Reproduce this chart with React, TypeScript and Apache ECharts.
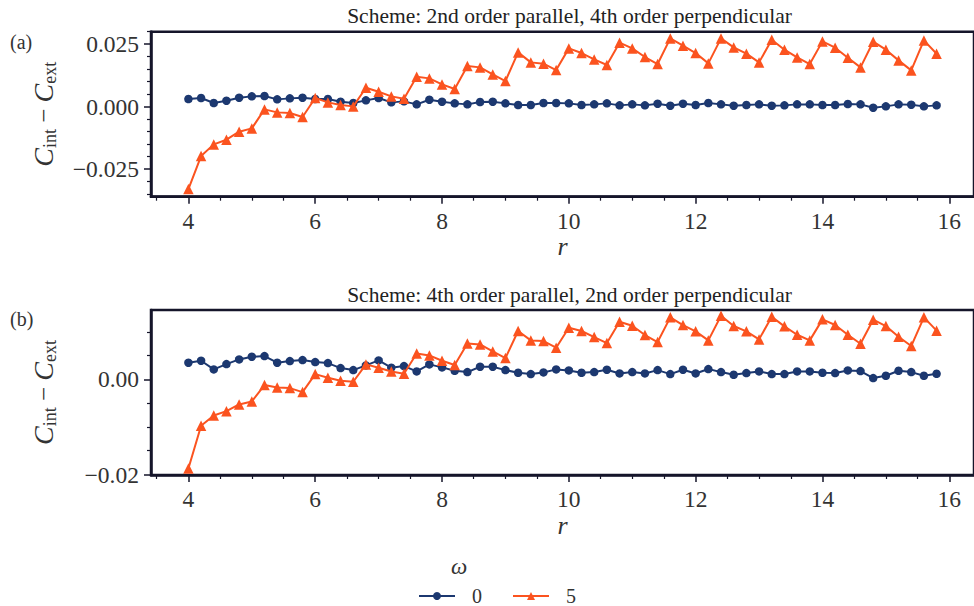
import React, { useEffect, useRef } from "react";
import * as echarts from "echarts";

const r = [4.0, 4.2, 4.4, 4.6, 4.8, 5.0, 5.2, 5.4, 5.6, 5.8, 6.0, 6.2, 6.4, 6.6, 6.8, 7.0, 7.2, 7.4, 7.6, 7.8,
  8.0, 8.2, 8.4, 8.6, 8.8, 9.0, 9.2, 9.4, 9.6, 9.8, 10.0, 10.2, 10.4, 10.6, 10.8, 11.0, 11.2, 11.4, 11.6, 11.8,
  12.0, 12.2, 12.4, 12.6, 12.8, 13.0, 13.2, 13.4, 13.6, 13.8, 14.0, 14.2, 14.4, 14.6, 14.8, 15.0, 15.2, 15.4, 15.6, 15.8];

// Panel (a): 2nd order parallel, 4th order perpendicular
const a_w0 = [0.00307, 0.00347, 0.00147, 0.0024, 0.0036, 0.00413, 0.00427, 0.00293, 0.00333, 0.0036,
  0.00307, 0.00307, 0.002, 0.00147, 0.00253, 0.00347, 0.00173, 0.00213, 0.00093, 0.0028,
  0.002, 0.00133, 0.00093, 0.00187, 0.002, 0.00133, 0.00067, 0.00067, 0.00147, 0.00147,
  0.00133, 0.00067, 0.00093, 0.00133, 0.00053, 0.00093, 0.00053, 0.0012, 0.0004, 0.0012,
  0.00067, 0.00147, 0.00093, 0.0004, 0.00067, 0.00093, 0.0004, 0.00053, 0.00093, 0.00093,
  0.00067, 0.00067, 0.00107, 0.00093, -0.0004, 0.00013, 0.00093, 0.0008, 0.00013, 0.00053];
const a_w5 = [-0.03293, -0.01973, -0.01507, -0.0132, -0.01, -0.00867, -0.00107, -0.00227, -0.00253, -0.00413,
  0.00347, 0.00173, 0.00067, 0.00013, 0.0076, 0.006, 0.00413, 0.0032, 0.012, 0.01133,
  0.00893, 0.00707, 0.01627, 0.01573, 0.01293, 0.01027, 0.02173, 0.01773, 0.0172, 0.01467,
  0.02333, 0.02147, 0.01893, 0.01667, 0.0256, 0.02333, 0.01987, 0.01707, 0.02733, 0.0244,
  0.02147, 0.01733, 0.02733, 0.02373, 0.0212, 0.01773, 0.0268, 0.0228, 0.01973, 0.01707,
  0.02613, 0.0236, 0.0196, 0.01573, 0.026, 0.0228, 0.01853, 0.01453, 0.02653, 0.0212];

// Panel (b): 4th order parallel, 2nd order perpendicular
const b_w0 = [0.00351, 0.00393, 0.00211, 0.00323, 0.00421, 0.00477, 0.00491, 0.00351, 0.00386, 0.00407,
  0.00365, 0.00344, 0.00239, 0.00196, 0.00295, 0.004, 0.00246, 0.00281, 0.00168, 0.00316,
  0.00253, 0.00182, 0.00154, 0.00267, 0.00267, 0.00196, 0.0014, 0.00112, 0.00147, 0.00211,
  0.00189, 0.0014, 0.00154, 0.00204, 0.00126, 0.00154, 0.00126, 0.00196, 0.00112, 0.00204,
  0.00126, 0.00218, 0.00154, 0.00098, 0.00133, 0.00168, 0.00112, 0.00112, 0.00168, 0.00168,
  0.0014, 0.00133, 0.00189, 0.00175, 0.00028, 0.00077, 0.00182, 0.00154, 0.00077, 0.00119];
const b_w5 = [-0.01874, -0.00975, -0.00758, -0.00667, -0.00526, -0.00463, -0.00119, -0.00168, -0.00182, -0.00267,
  0.00112, 0.00035, -0.00028, -0.00049, 0.00316, 0.00246, 0.00168, 0.00119, 0.00547, 0.00505,
  0.00393, 0.00302, 0.00758, 0.00737, 0.00589, 0.00449, 0.01018, 0.00821, 0.00807, 0.00667,
  0.01088, 0.01018, 0.00891, 0.00765, 0.01214, 0.0113, 0.00933, 0.00786, 0.01305, 0.01144,
  0.01011, 0.00821, 0.0134, 0.01123, 0.01011, 0.00842, 0.01319, 0.01116, 0.0094, 0.00821,
  0.01263, 0.01144, 0.0094, 0.00751, 0.01256, 0.01123, 0.00898, 0.00702, 0.01305, 0.01025];

const xMajorTicks = [4, 6, 8, 10, 12, 14, 16];
const xMinorTicks = [3.5, 4.5, 5, 5.5, 6.5, 7, 7.5, 8.5, 9, 9.5, 10.5, 11, 11.5, 12.5, 13, 13.5, 14.5, 15, 15.5, 16.5];
const aYMajor = [-0.025, 0, 0.025];
const aYMinor = [-0.035, -0.03, -0.02, -0.015, -0.01, -0.005, 0.005, 0.01, 0.015, 0.02, 0.03];
const bYMajor = [-0.02, 0];
const bYMinor = [-0.015, -0.01, -0.005, 0.005, 0.01];
const titles = ["Scheme: 2nd order parallel, 4th order perpendicular", "Scheme: 4th order parallel, 2nd order perpendicular"];
const panelLabels = ["(a)", "(b)"];
const omegaNames = ["0", "5"];

const FONT = "Liberation Serif";
const SPINE = "#15152a";
const TEXT = "#333333";
const BLUE = "#1c3870";
const ORANGE = "#fb531f";

function fmt(decimals: number) {
  return (v: number) => {
    if (Math.abs(v) < 1e-12) return (0).toFixed(decimals);
    return (v < 0 ? "\u2212" : "") + Math.abs(v).toFixed(decimals);
  };
}

export default function App() {
  const ref = useRef<HTMLDivElement>(null);
  useEffect(() => {
    document.body.style.margin = "0";
    if (!ref.current) return;
    const chart = echarts.init(ref.current, undefined, { renderer: "svg" });

    const grids = [
      { left: 151, top: 31.7, width: 827, height: 165 },
      { left: 151, top: 310, width: 827, height: 165 },
    ];
    const yRanges = [
      { min: -0.036, max: 0.030, major: aYMajor, minor: aYMinor, dec: 3 },
      { min: -0.0201, max: 0.0146, major: bYMajor, minor: bYMinor, dec: 2 },
    ];

    const labelStyle = { fontSize: 23.5, color: TEXT, fontFamily: FONT };

    const xAxes: any[] = [];
    const yAxes: any[] = [];
    grids.forEach((_, gi) => {
      xAxes.push({
        type: "value", gridIndex: gi, min: 3.41, max: 16.39, position: "bottom",
        axisLine: { show: true, onZero: false, lineStyle: { color: SPINE, width: 2.5 } },
        axisTick: { show: true, length: 7, customValues: xMajorTicks, lineStyle: { color: SPINE, width: 1.5 } },
        axisLabel: { show: true, customValues: xMajorTicks, margin: 12, ...labelStyle },
        splitLine: { show: false },
        name: "r", nameLocation: "middle", nameGap: 37,
        nameTextStyle: { fontSize: 26, fontStyle: "italic", fontFamily: FONT, color: TEXT },
      });
      xAxes.push({
        type: "value", gridIndex: gi, min: 3.41, max: 16.39, position: "bottom",
        axisLine: { show: false, onZero: false },
        axisTick: { show: true, length: 4, customValues: xMinorTicks, lineStyle: { color: SPINE, width: 1.2 } },
        axisLabel: { show: false },
        splitLine: { show: false },
      });
      const yr = yRanges[gi];
      yAxes.push({
        type: "value", gridIndex: gi, min: yr.min, max: yr.max, position: "left",
        axisLine: { show: true, onZero: false, lineStyle: { color: SPINE, width: 2.5 } },
        axisTick: { show: true, length: 7, customValues: yr.major, lineStyle: { color: SPINE, width: 1.5 } },
        axisLabel: { show: true, customValues: yr.major, margin: 12, ...labelStyle, formatter: fmt(yr.dec) },
        splitLine: { show: false },
        name: "{i|C}{s|int}{o| \u2212 }{i|C}{s|ext}",
        nameLocation: "middle", nameGap: 92, nameRotate: 90,
        nameTextStyle: {
          fontFamily: FONT, color: TEXT,
          rich: {
            i: { fontSize: 28, fontStyle: "italic", fontFamily: FONT, color: TEXT, lineHeight: 32, verticalAlign: "middle" },
            s: { fontSize: 18, fontFamily: FONT, color: TEXT, lineHeight: 17, verticalAlign: "bottom" },
            o: { fontSize: 25, fontFamily: FONT, color: TEXT, lineHeight: 32, verticalAlign: "middle" },
          },
        },
      });
      yAxes.push({
        type: "value", gridIndex: gi, min: yr.min, max: yr.max, position: "left",
        axisLine: { show: false, onZero: false },
        axisTick: { show: true, length: 4, customValues: yr.minor, lineStyle: { color: SPINE, width: 1.2 } },
        axisLabel: { show: false },
        splitLine: { show: false },
      });
    });

    const panels = [[a_w0, a_w5], [b_w0, b_w5]];
    const series: any[] = [];
    panels.forEach((pair, gi) => {
      pair.forEach((vals, si) => {
        const color = si === 0 ? BLUE : ORANGE;
        series.push({
          type: "line", name: omegaNames[si],
          xAxisIndex: gi * 2, yAxisIndex: gi * 2,
          data: r.map((x, i) => [x, vals[i]]),
          symbol: si === 0 ? "circle" : "triangle",
          symbolSize: si === 0 ? 8.5 : 10.5,
          lineStyle: { color, width: 2 },
          itemStyle: { color },
          z: 2 + si,
        });
      });
    });

    chart.setOption({
      animation: false,
      backgroundColor: "#ffffff",
      textStyle: { fontFamily: FONT },
      grid: grids.map((g) => ({ ...g, show: true, borderColor: SPINE, borderWidth: 2.5, backgroundColor: "transparent" })),
      title: titles.map((t, i) => ({
        text: t, left: 564.5, top: i === 0 ? 0 : 279, textAlign: "center",
        textStyle: { fontSize: 21.5, fontWeight: "normal", fontFamily: FONT, color: "#222" },
      })),
      xAxis: xAxes,
      yAxis: yAxes,
      series,
      legend: {
        data: omegaNames,
        left: 413, top: 581, itemWidth: 36, itemHeight: 10, itemGap: 30,
        textStyle: { fontSize: 20, fontFamily: FONT, color: TEXT, padding: [0, 0, 0, 12] },
      },
      graphic: [
        { type: "text", left: 10, top: 32, style: { text: panelLabels[0], fontSize: 20, fontFamily: FONT, fill: TEXT } },
        { type: "text", left: 10, top: 309, style: { text: panelLabels[1], fontSize: 20, fontFamily: FONT, fill: TEXT } },
        { type: "text", left: 451, top: 555, style: { text: "\u03c9", fontSize: 23, fontStyle: "italic", fontFamily: FONT, fill: TEXT } },
      ],
    });
    return () => chart.dispose();
  }, []);
  return <div ref={ref} style={{ width: 974, height: 606 }} />;
}
